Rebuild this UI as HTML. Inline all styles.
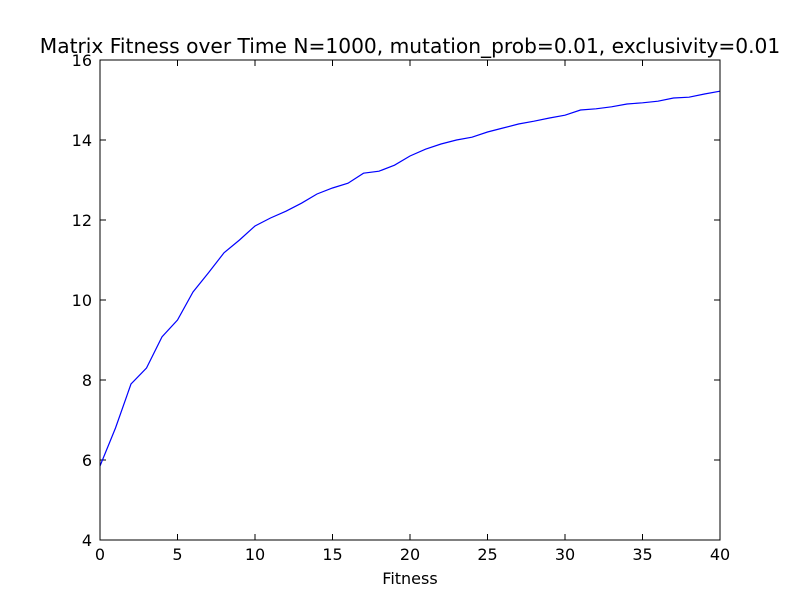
<!DOCTYPE html>
<html><head><meta charset="utf-8"><style>
html,body{margin:0;padding:0;background:#fff;}
svg{display:block;font-family:"DejaVu Sans","Liberation Sans",sans-serif;}
</style></head><body>
<svg id="chart" width="800" height="600" viewBox="0 0 800 600">
<rect x="0" y="0" width="800" height="600" fill="#fff"/>
<text x="410" y="53" font-size="20.2" text-anchor="middle">Matrix Fitness over Time N=1000, mutation_prob=0.01, exclusivity=0.01</text>
<g id="ticks"></g>
<path id="line" fill="none" stroke="#0000ff" stroke-width="1.2"/>
<rect x="100" y="60" width="620" height="480" fill="none" stroke="#000" stroke-width="1"/>
<text x="410" y="584" font-size="16" text-anchor="middle">Fitness</text>
</svg>
<script>
const generations = [];
for (let i = 0; i <= 40; i++) generations.push(i);
const fitnessValues = [5.85,6.8,7.9,8.3,9.08,9.5,10.2,10.68,11.18,11.5,11.85,12.05,12.22,12.42,12.65,12.8,12.92,13.17,13.22,13.37,13.6,13.77,13.9,14.0,14.07,14.2,14.3,14.4,14.47,14.55,14.62,14.75,14.78,14.83,14.9,14.93,14.97,15.05,15.07,15.15,15.22];
const xTicks = [0,5,10,15,20,25,30,35,40];
const yTicks = [4,6,8,10,12,14,16];

const X0=100,X1=720,Y0=540,Y1=60;
const xMin=0,xMax=40,yMin=4,yMax=16;
function xs(v){return X0+(v-xMin)/(xMax-xMin)*(X1-X0);}
function ys(v){return Y0-(v-yMin)/(yMax-yMin)*(Y0-Y1);}
const NS="http://www.w3.org/2000/svg";
const g=document.getElementById('ticks');
function mk(tag,attrs){const e=document.createElementNS(NS,tag);for(const k in attrs)e.setAttribute(k,attrs[k]);return e;}
xTicks.forEach(t=>{
  const x=xs(t);
  const a=mk('line',{x1:x,y1:Y0,x2:x,y2:Y0-6,stroke:'#000'});
  
  
  g.appendChild(a);
  const b=mk('line',{x1:x,y1:Y1,x2:x,y2:Y1+6,stroke:'#000'});
  
  
  g.appendChild(b);
  const l=mk('text',{x:x,y:Y0+20,'font-size':16,'text-anchor':'middle'});
  l.textContent=t;
  
  
  g.appendChild(l);
});
yTicks.forEach(t=>{
  const y=ys(t);
  const a=mk('line',{x1:X0,y1:y,x2:X0+6,y2:y,stroke:'#000'});
  
  
  g.appendChild(a);
  const b=mk('line',{x1:X1,y1:y,x2:X1-6,y2:y,stroke:'#000'});
  
  
  g.appendChild(b);
  const l=mk('text',{x:X0-8,y:y+6,'font-size':16,'text-anchor':'end'});
  l.textContent=t;
  
  
  g.appendChild(l);
});
document.getElementById('line').setAttribute('d',
  generations.map((g2,i)=>(i?'L':'M')+xs(g2).toFixed(2)+' '+ys(fitnessValues[i]).toFixed(2)).join(' '));
</script>
</body></html>
